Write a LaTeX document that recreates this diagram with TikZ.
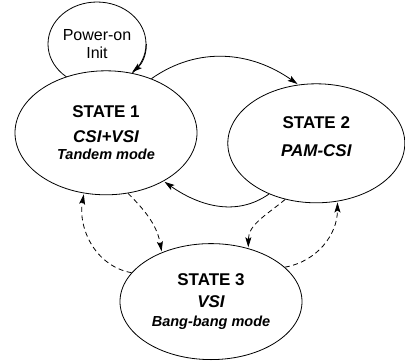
\documentclass[tikz,border=0pt]{standalone}
\usepackage{fontspec}
\setmainfont{Liberation Sans}
\usetikzlibrary{positioning, arrows.meta, shapes.geometric, petri}

\begin{document}
\begin{tikzpicture}[>={Stealth[length=10pt,width=6pt,inset=2pt]}, line width=0.8pt, node distance=30pt, font=\fontsize{17}{17}\selectfont]
\tikzstyle{mode}=[ellipse,draw=black,fill=white,inner sep=0pt,align=center]
\tikzstyle{boot}=[ellipse,draw=black,inner sep=0pt,align=center,minimum width=98pt,minimum height=84pt]
\tikzstyle{bang}=[dash pattern=on 5pt off 3.5pt]
\useasboundingbox (0,0) rectangle (405pt,-360pt);
\node [boot] (init) at (97pt,-44pt) {{\fontsize{16}{17}\selectfont Power-on}\\[1pt]{\fontsize{16}{17}\selectfont Init}};
\node [mode,minimum width=182pt,minimum height=124pt] (s1) [below=-16pt of init,xshift=9pt]
{{\bfseries STATE 1}\\[8pt]{\bfseries\itshape CSI+VSI}\\{\fontsize{14.5}{17}\selectfont\bfseries\itshape Tandem mode}};
\node [mode,minimum width=177pt,minimum height=119pt,text depth=14pt] (s2) [right=30pt of s1,yshift=-10.5pt]
{{\bfseries STATE 2}\\[11pt]{\bfseries\itshape PAM-CSI}};
\node [mode,minimum width=182pt,minimum height=116pt] (s3) [below=48pt of s1,xshift=105pt]
{{\bfseries STATE 3}\\[5pt]{\bfseries\itshape VSI}\\[2pt]{\fontsize{14.5}{17}\selectfont\bfseries\itshape Bang-bang mode}};
% solid transitions
\draw [post] (init.east) to[out=-90,in=40] (s1.67);
\draw [post] (s1.50) to[out=35,in=145] (s2.107);
\draw [post] (s2.227) to[out=215,in=-35] (s1.320);
% dashed transitions
\draw [post,bang] (s3.160) to[out=170,in=-100] (s1.250);
\draw [post,bang] (s1.290) to[out=-45,in=100] (s3.135);
\draw [post,bang] (s2.241) to[out=220,in=90] (s3.55);
\draw [post,bang] (s3.25) to[out=10,in=-90] (s2.290);
\end{tikzpicture}
\end{document}
